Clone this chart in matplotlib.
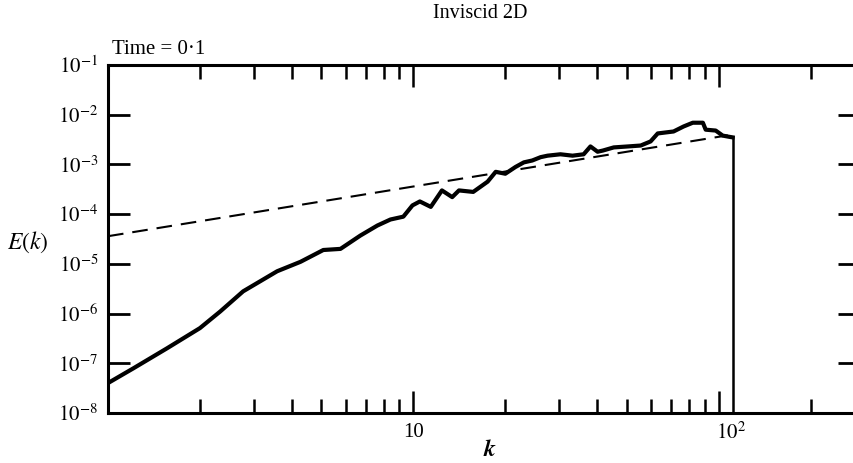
import matplotlib
matplotlib.use("Agg")
import matplotlib.pyplot as plt
import matplotlib.transforms as mtransforms
import numpy as np

# spectrum
k_vals = [1.0, 1.21, 1.56, 2.0, 2.33, 2.77, 3.58, 4.27, 5.07, 5.77, 6.70, 7.62, 8.41,
          9.27, 9.93, 10.5, 11.4, 12.4, 13.4, 14.1, 15.7, 17.5, 18.6, 20.0, 21.6, 23.0,
          24.5, 26.1, 27.5, 30.3, 33.2, 36.1, 38.0, 40.1, 41.7, 45.3, 50.4, 55.5, 59.8,
          63.1, 71.1, 76.7, 82.2, 88.7, 90.6, 97.7, 103, 108, 111]
E_vals = [4.0e-8, 7.9e-8, 2.0e-7, 5.1e-7, 1.1e-6, 2.8e-6, 7.1e-6, 1.1e-5, 1.9e-5, 2.0e-5,
          3.7e-5, 5.9e-5, 7.8e-5, 8.9e-5, 1.5e-4, 1.8e-4, 1.4e-4, 3.0e-4, 2.2e-4, 3.0e-4,
          2.8e-4, 4.5e-4, 7.1e-4, 6.5e-4, 8.9e-4, 1.1e-3, 1.2e-3, 1.4e-3, 1.5e-3, 1.6e-3,
          1.5e-3, 1.6e-3, 2.3e-3, 1.8e-3, 1.9e-3, 2.2e-3, 2.3e-3, 2.4e-3, 2.9e-3, 4.2e-3,
          4.6e-3, 5.8e-3, 6.9e-3, 6.9e-3, 5.0e-3, 4.8e-3, 3.8e-3, 3.6e-3, 3.5e-3]
k_cut = 111

# reference power law E ~ k
ref_k = [1.0, 107]
ref_E = [3.6e-5, 3.85e-3]

plt.rcParams['font.family'] = ['Liberation Serif', 'DejaVu Serif']
plt.rcParams['mathtext.fontset'] = 'stix'

fig = plt.figure(figsize=(8.54, 4.63), dpi=100)
ax = fig.add_axes([108 / 854, 50 / 463, 752 / 854, 348 / 463])

ax.plot(ref_k, ref_E, color='black', lw=1.5, dashes=(7.5, 4.3))
ax.plot(k_vals, E_vals, color='black', lw=3.0, solid_joinstyle='round')
ax.plot([k_cut, k_cut], [E_vals[-1], 1e-8], color='black', lw=1.8)

ax.set_xscale('log')
ax.set_yscale('log')
ax.set_xlim(1, 290)
ax.set_ylim(1e-8, 1e-1)

for s in ax.spines.values():
    s.set_linewidth(2.2)

ax.set_xticks([1, 10, 100])
ax.set_xticklabels(['', '10', '$10^2$'])
ax.set_xticks([2, 3, 4, 5, 6, 7, 8, 9, 20, 30, 40, 50, 60, 70, 80, 90, 200], minor=True)
ax.set_xticklabels([], minor=True)
ax.set_yticks([10.0 ** p for p in range(-8, 0)])
ax.set_yticklabels(['$10^{%d}$' % p for p in range(-8, 0)])
ax.yaxis.set_minor_locator(matplotlib.ticker.NullLocator())

ax.tick_params(axis='x', which='major', direction='in', top=True, length=16, width=1.8,
               labelsize=15, pad=7)
ax.tick_params(axis='x', which='minor', direction='in', top=True, length=10, width=1.8)
ax.tick_params(axis='y', which='major', direction='in', right=True, length=16, width=2.0,
               labelsize=15, pad=7)

# the 10^2 label sits a little right of its tick in the original
lab = ax.get_xticklabels()[2]
lab.set_transform(lab.get_transform() + mtransforms.ScaledTranslation(0.12, 0, fig.dpi_scale_trans))

fig.text(480 / 854, 1 - 14 / 463, 'Inviscid 2D', ha='center', va='center', fontsize=14.5)
fig.text(112 / 854, 1 - 50 / 463, 'Time = 0·1', ha='left', va='center', fontsize=15)
fig.text(7 / 854, 1 - 242 / 463, '$E(k)$', ha='left', va='center', fontsize=17)
fig.text(490 / 854, 1 - 451 / 463, '$\\boldsymbol{k}$', ha='center', va='center', fontsize=17)

fig.savefig('out.png', dpi=100)
